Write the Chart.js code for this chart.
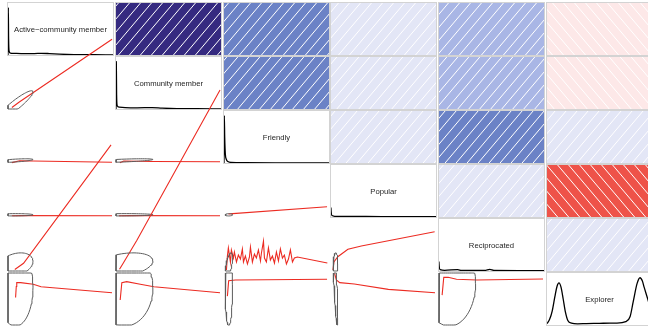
<!DOCTYPE html>
<html>
<head>
<meta charset="utf-8">
<script src="https://cdn.jsdelivr.net/npm/chart.js@4.4.1/dist/chart.umd.min.js"></script>
<style>
  html, body { margin: 0; padding: 0; background: #fff; }
  #grid { position: relative; width: 648px; height: 327px; overflow: hidden; }
  #grid canvas { position: absolute; left: 0; top: 0; }
  .lbl {
    position: absolute;
    transform: translate(-50%, -50%);
    font: 7.7px "Liberation Sans", Arial, sans-serif;
    color: #1e1e1e;
    white-space: nowrap;
  }
</style>
</head>
<body>
<div id="grid"></div>
<script>
(() => {
  // variables, in panel order
  const VARS = ["Active\u2212community member", "Community member", "Friendly", "Popular", "Reciprocated", "Explorer"];
  // scores are on a 0-100 scale; panels show that range plus 4% either side
  const AXIS_MIN = -4;
  const AXIS_MAX = 104;
  const MEANS = [3, 3, 1, 0.6, 8, 78];
  const SDS = [12.4, 20.5, 2.5, 1.6, 17, 56];

  const CORR = [
    [1.00, 0.92, 0.62, 0.06, 0.33, -0.04],
    [0.92, 1.00, 0.63, 0.07, 0.35, -0.05],
    [0.62, 0.63, 1.00, 0.08, 0.60, 0.03],
    [0.06, 0.07, 0.08, 1.00, 0.10, -0.80],
    [0.33, 0.35, 0.60, 0.10, 1.00, 0.05],
    [-0.04, -0.05, 0.03, -0.80, 0.05, 1.00],
  ];

  // kernel densities for the diagonal, [x, density], and the x span each one covers
  const DENS_ACTIVE = [[-1.4, 0], [-1.1, 1], [-0.8, 0.35], [-0.3, 0.08], [1, 0.04], [5, 0.035], [15, 0.03], [25, 0.03], [32, 0.035], [40, 0.03], [50, 0.02], [65, 0.01], [85, 0.005], [104, 0]];
  const DENS_COMMUNITY = [[-1.2, 0], [-0.9, 1], [-0.6, 0.3], [0, 0.07], [2, 0.04], [8, 0.03], [20, 0.025], [35, 0.03], [45, 0.02], [60, 0.01], [80, 0.006], [104, 0]];
  const DENS_FRIENDLY = [[-1.3, 0], [-1.0, 1], [-0.6, 0.55], [0, 0.2], [1, 0.08], [2.5, 0.03], [6, 0.012], [20, 0.006], [50, 0.003], [104, 0]];
  const DENS_POPULAR = [[-0.9, 0], [-0.8, 1], [-0.7, 0.2], [0.5, 0.03], [3, 0.015], [20, 0.012], [50, 0.01], [80, 0.01], [104, 0.008]];
  const DENS_RECIPROCATED = [[-0.9, 0], [-0.8, 1], [-0.7, 0.2], [0.5, 0.03], [5, 0.015], [18, 0.03], [22, 0.012], [45, 0.012], [50, 0.035], [54, 0.012], [80, 0.01], [104, 0.008]];
  const DENS_EXPLORER = [[-10, 0.03], [-7, 0.12], [-4, 0.3], [-1, 0.6], [1.5, 0.82], [3.7, 0.89], [6, 0.8], [8.5, 0.55], [11, 0.28], [14, 0.09], [18, 0.04], [25, 0.025], [35, 0.03], [50, 0.035], [62, 0.04], [70, 0.04], [80, 0.07], [85, 0.18], [88.6, 0.5], [93, 0.88], [96.3, 1], [99, 0.93], [101, 0.8], [105.4, 0.53], [110, 0.2]];
  const DENSITIES = [DENS_ACTIVE, DENS_COMMUNITY, DENS_FRIENDLY, DENS_POPULAR, DENS_RECIPROCATED, DENS_EXPLORER];
  const DENS_LIMITS = [[-1.4, 104], [-1.2, 104], [-1.3, 104], [-0.6, 104], [-0.6, 104], [-10, 110]];

  // lowess smoothers for the lower panels, [x, y]
  const LOW_1_0 = [[0, -1], [8, 11], [103, 141]];
  const LOW_2_0 = [[0, -3.2], [8, 0.5], [22, 0.3], [103, -2.5]];
  const LOW_2_1 = [[0, -3.4], [4, 0.2], [33, -1], [103, -1.3]];
  const LOW_3_0 = [[0, -1.5], [10, -1.2], [103, -1.4]];
  const LOW_3_1 = [[-1, -1.5], [10, -1.2], [103, -1.3]];
  const LOW_3_2 = [[0.5, 2.2], [5, 3], [102, 17.4]];
  const LOW_4_0 = [[3, -1], [12, 12], [102, 258]];
  const LOW_4_1 = [[-0.4, -0.5], [3.7, 13], [17.5, 60], [103, 372]];
  const LOW_4_2 = [
    [-1.5, -1.9], [-0.5, 27.2], [0.5, 43.8], [2.6, 14.7], [3.6, 39.6], [5.7, 23.0], [6.7, 35.5], [8.8, 14.7],
    [10.8, 29.2], [12.9, 20.9], [14.9, 41.7], [16.0, 14.7], [18.0, 27.2], [20.1, 10.5], [22.2, 25.1], [23.2, 45.8],
    [25.2, 14.7], [27.3, 31.3], [29.3, 23.0], [31.4, 39.6], [33.5, 16.8], [34.5, 33.4], [36.6, 58.0], [37.6, 23.0],
    [39.6, 14.7], [41.7, 43.8], [43.7, 18.8], [45.8, 27.2], [47.9, 12.6], [49.9, 35.5], [52.0, 16.8], [54.0, 41.7],
    [56.1, 23.0], [58.1, 29.2], [60.2, 10.5], [62.3, 20.9], [64.3, 39.6], [66.4, 14.7], [68.4, 23.0], [71.5, 25.1],
    [102.3, 12.6],
  ];
  const LOW_4_3 = [[-2, -1.9], [-1, 15], [3, 25.7], [13.4, 41], [27.2, 47.9], [102.6, 77.6]];
  const LOW_5_0 = [[3.8, 53], [4.5, 76], [5, 84], [9, 84], [22, 80.5], [30, 75.5], [103, 63]];
  const LOW_5_1 = [[0.3, 48], [2, 84], [7, 86], [21, 80.5], [35, 75.5], [103, 63]];
  const LOW_5_2 = [[-0.5, 56], [0.8, 88], [7.7, 89.5], [102, 91]];
  const LOW_5_3 = [[-0.3, 103], [1.5, 89.5], [5, 84], [20, 81], [55, 70], [103, 63]];
  const LOW_5_4 = [[-0.8, 58], [0.9, 95], [5.4, 95], [14, 91], [35, 89.5], [103, 91.5]];
  const LOWESS = [
    [1, 0, LOW_1_0], [2, 0, LOW_2_0], [2, 1, LOW_2_1], [3, 0, LOW_3_0], [3, 1, LOW_3_1], [3, 2, LOW_3_2],
    [4, 0, LOW_4_0], [4, 1, LOW_4_1], [4, 2, LOW_4_2], [4, 3, LOW_4_3],
    [5, 0, LOW_5_0], [5, 1, LOW_5_1], [5, 2, LOW_5_2], [5, 3, LOW_5_3], [5, 4, LOW_5_4],
  ];

  // red -> salmon -> white -> royalblue -> navy, 14 bins over [-1, 1]
  const SHADES = ["#E0332B", "#EE5349", "#F27166", "#F69087", "#F9B0AA", "#FCCFCB", "#FDE8E8",
                  "#E3E6F6", "#C6CEEE", "#A9B6E5", "#8A9BD6", "#6B82C6", "#4E55A3", "#352A80"];

  // panel geometry
  const CW = 660, CH = 330;
  const CELL_LEFT = [8, 116, 224, 331, 439, 547];
  const CELL_TOP = [3, 57, 111, 165, 219, 273];
  const CELL_W = 105, CELL_H = 52;

  const grid = document.getElementById("grid");

  function newCanvas() {
    const c = document.createElement("canvas");
    c.width = CW;
    c.height = CH;
    grid.appendChild(c);
    return c;
  }

  function cellPadding(row, col) {
    const left = CELL_LEFT[col], top = CELL_TOP[row];
    return { left, top, right: CW - left - CELL_W, bottom: CH - top - CELL_H };
  }

  const boxPlugin = {
    id: "cellBox",
    afterDatasetsDraw(chart, args, opts) {
      if (!opts || !opts.show) return;
      const { ctx, chartArea: a } = chart;
      ctx.save();
      ctx.strokeStyle = "#d3d3d3";
      ctx.lineWidth = 1;
      ctx.strokeRect(a.left - 0.5, a.top - 0.5, a.right - a.left + 1, a.bottom - a.top + 1);
      ctx.restore();
    },
  };

  function baseOptions(row, col, xr, yr, box) {
    return {
      responsive: false,
      animation: false,
      events: [],
      layout: { padding: cellPadding(row, col) },
      plugins: { legend: { display: false }, tooltip: { enabled: false }, cellBox: { show: box } },
      scales: {
        x: { type: "linear", display: false, min: xr[0], max: xr[1] },
        y: { type: "linear", display: false, min: yr[0], max: yr[1] },
      },
    };
  }

  // white diagonal hatching: '/' for positive, '\' for negative correlation
  function stripes(color, r) {
    const w = 11, h = 13;
    const t = document.createElement("canvas");
    t.width = w;
    t.height = h;
    const g = t.getContext("2d");
    g.fillStyle = color;
    g.fillRect(0, 0, w, h);
    g.strokeStyle = "#fff";
    g.lineWidth = 1;
    g.beginPath();
    for (const off of [-w, 0, w]) {
      if (r >= 0) {
        g.moveTo(off, h);
        g.lineTo(off + w, 0);
      } else {
        g.moveTo(off, 0);
        g.lineTo(off + w, h);
      }
    }
    g.stroke();
    return g.createPattern(t, "repeat");
  }

  function shadePanel(row, col) {
    const r = CORR[row][col];
    const bin = Math.min(SHADES.length - 1, Math.floor(((r + 1) / 2) * SHADES.length));
    const opts = baseOptions(row, col, [0, 1], [0, 1], true);
    opts.scales.x = { type: "category", display: false };
    new Chart(newCanvas(), {
      type: "bar",
      data: {
        labels: [VARS[col]],
        datasets: [{
          data: [1],
          backgroundColor: stripes(SHADES[bin], r),
          borderWidth: 0,
          categoryPercentage: 1,
          barPercentage: 1,
        }],
      },
      options: opts,
      plugins: [boxPlugin],
    });
  }

  function densityPanel(i) {
    const d = DENSITIES[i];
    const top = Math.max(...d.map((p) => p[1])) * 1.1;
    new Chart(newCanvas(), {
      type: "scatter",
      data: {
        datasets: [{
          data: d.map(([x, y]) => ({ x, y })),
          showLine: true,
          borderColor: "#000",
          borderWidth: 1.3,
          pointRadius: 0,
          cubicInterpolationMode: "monotone",
          clip: 0,
        }],
      },
      options: baseOptions(i, i, DENS_LIMITS[i], [0, top], true),
      plugins: [boxPlugin],
    });

    const lbl = document.createElement("div");
    lbl.className = "lbl";
    lbl.textContent = VARS[i];
    lbl.style.left = CELL_LEFT[i] + CELL_W / 2 + "px";
    lbl.style.top = CELL_TOP[i] + CELL_H / 2 + "px";
    grid.appendChild(lbl);
  }

  const clamp = (v) => Math.min(AXIS_MAX, Math.max(AXIS_MIN, v));

  // 68% data ellipse, clamped to the panel limits
  function ellipse(ix, iy) {
    const r = CORR[iy][ix];
    const rad = Math.sqrt(2 * 1.139);
    const pts = [];
    for (let k = 0; k < 75; k++) {
      const a = (2 * Math.PI * k) / 74;
      const x = MEANS[ix] + rad * Math.cos(a) * SDS[ix];
      const y = MEANS[iy] + rad * SDS[iy] * (Math.cos(a) * r + Math.sin(a) * Math.sqrt(1 - r * r));
      pts.push({ x: clamp(x), y: clamp(y) });
    }
    return pts;
  }

  function ellipsePanel(row, col, smooth) {
    new Chart(newCanvas(), {
      type: "scatter",
      data: {
        datasets: [
          {
            data: ellipse(col, row),
            showLine: true,
            borderColor: "#5c5c5c",
            borderWidth: 1,
            pointRadius: 0,
            clip: false,
          },
          {
            data: smooth.map(([x, y]) => ({ x, y })),
            showLine: true,
            borderColor: "#ec2b22",
            borderWidth: 1.1,
            pointRadius: 0,
            clip: false,
          },
        ],
      },
      options: baseOptions(row, col, [AXIS_MIN, AXIS_MAX], [AXIS_MIN, AXIS_MAX], false),
    });
  }

  for (let row = 0; row < VARS.length; row++) {
    for (let col = row + 1; col < VARS.length; col++) shadePanel(row, col);
  }
  VARS.forEach((v, i) => densityPanel(i));
  LOWESS.forEach(([row, col, smooth]) => ellipsePanel(row, col, smooth));
})();
</script>
</body>
</html>
